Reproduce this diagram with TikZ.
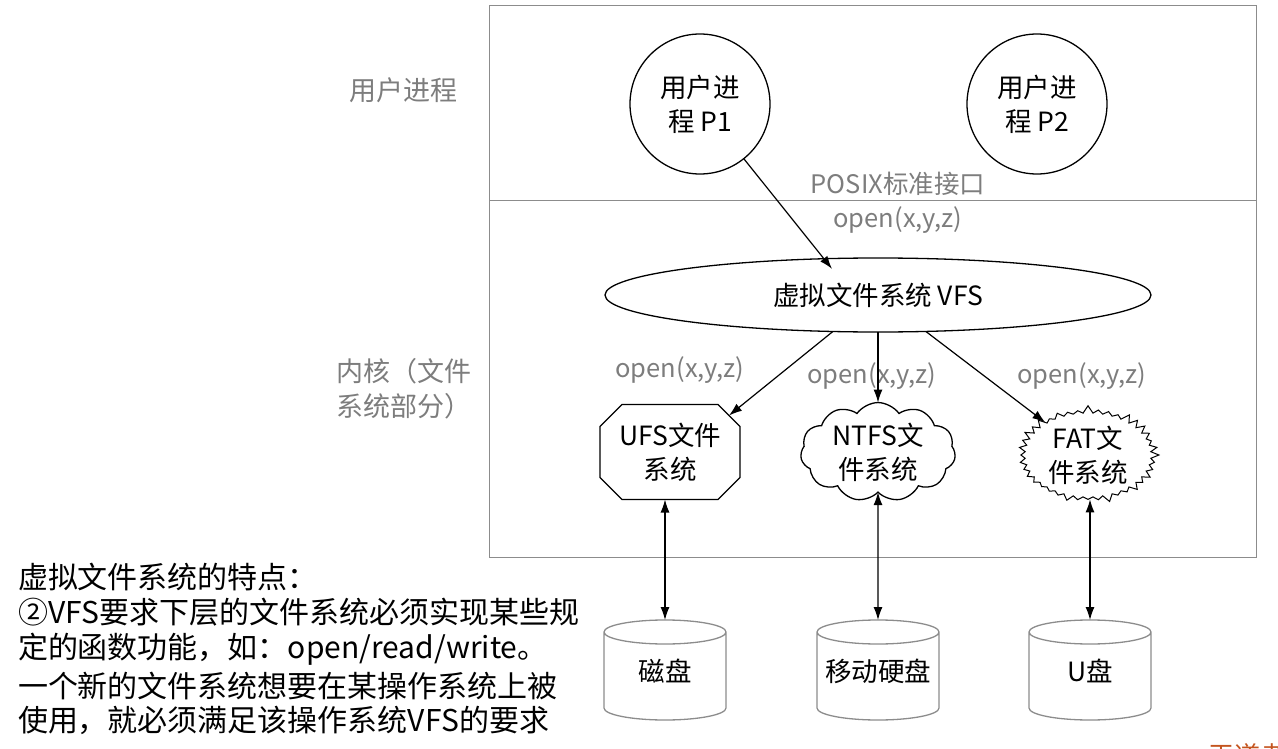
\documentclass[tikz,border=0pt]{standalone}
\usepackage{fontspec}
\setmainfont{Noto Sans CJK SC}
\usetikzlibrary{shapes.geometric,shapes.symbols,shapes.misc,arrows.meta}
\definecolor{lblgrey}{RGB}{125,125,125}
\definecolor{boxgrey}{RGB}{140,140,140}
\definecolor{wdorange}{RGB}{196,84,30}
\tikzset{
  every node/.style={inner sep=0pt, outer sep=0pt},
  shp/.style={draw=black, line width=1.3pt, align=center, font=\fontsize{26.5pt}{34pt}\selectfont},
  lbl/.style={text=lblgrey, font=\fontsize{25.5pt}{28pt}\selectfont},
  side/.style={text=lblgrey, align=left, font=\fontsize{27pt}{35pt}\selectfont},
  arr/.style={-{Latex[length=13pt,width=9pt]}, line width=1.2pt},
  darr/.style={{Latex[length=13pt,width=9pt]}-{Latex[length=13pt,width=9pt]}, line width=1.2pt},
  disk/.style={minimum width=122pt, minimum height=100pt, text depth=0pt, font=\fontsize{26.5pt}{30pt}\selectfont},
  diskline/.style={draw=boxgrey, line width=1.3pt},
  note/.style={anchor=west, font=\fontsize{30pt}{32pt}\selectfont}
}
\newcommand{\diskshape}[1]{%
  \draw[diskline] ([yshift=-12pt]#1.north west) -- ([yshift=12pt]#1.south west)
    arc[start angle=180, end angle=360, x radius=61pt, y radius=12pt]
    -- ([yshift=-12pt]#1.north east)
    arc[start angle=0, end angle=180, x radius=61pt, y radius=12pt]
    arc[start angle=180, end angle=360, x radius=61pt, y radius=12pt];}
\begin{document}
\begin{tikzpicture}[x=1pt,y=-1pt]
\useasboundingbox (0,0) rectangle (1278,749);
\clip (0,0) rectangle (1278,749);
% frame
\draw[boxgrey, line width=1pt] (489,6) rectangle (1256,557);
\draw[boxgrey, line width=1pt] (489,201) -- (1256,201);
% side labels
\node[side, anchor=west] (up) at (349,90) {用户进程};
\node[side, anchor=north west] (kern) at (336,358) {内核（文件\\系统部分）};
% processes
\node[shp, circle, minimum size=140pt] (p1) at (700,104) {用户进\\程 P1};
\node[shp, circle, minimum size=140pt] (p2) at (1037,104) {用户进\\程 P2};
% labels
\node[lbl] (posix) at (898,184) {POSIX标准接口};
\node[lbl] (o0) at (898,220) {open(x,y,z)};
% VFS
\node[shp, ellipse, minimum width=546pt, minimum height=74pt] (vfs) at (878,295) {虚拟文件系统 VFS};
% file systems
\node[shp, chamfered rectangle, chamfered rectangle xsep=11pt, chamfered rectangle ysep=11pt, minimum width=140pt, minimum height=95pt] (ufs) at (670,452) {UFS文件\\系统};
\node[shp, cloud, cloud puffs=11, cloud puff arc=110, aspect=1.6, minimum width=155pt, minimum height=95pt] (ntfs) at (878,452) {NTFS文\\件系统};
\node[shp, starburst, starburst points=40, starburst point height=8pt, random starburst=7, line width=1pt, minimum width=142pt, minimum height=100pt] (fat) at (1088,455) {FAT文\\件系统};
\node[lbl] (o1) at (680,370) {open(x,y,z)};
\node[lbl] (o2) at (872,376) {open(x,y,z)};
\node[lbl] (o3) at (1082,376) {open(x,y,z)};
% disks
\node[disk] (d1) at (665,670) {磁盘};
\node[disk] (d2) at (878,670) {移动硬盘};
\node[disk] (d3) at (1090,670) {U盘};
\diskshape{d1}
\diskshape{d2}
\diskshape{d3}
% arrows
\draw[arr] (p1) -- (vfs.north west -| 832,0);
\draw[arr] (vfs) -- (ufs.north east);
\draw[arr] (vfs.south) -- (ntfs.north);
\draw[arr] (vfs) -- (fat);
\draw[darr] (ufs.south -| d1) -- (d1.north);
\draw[darr] (ntfs.south) -- (d2.north);
\draw[darr] (fat.south -| d3) -- (d3.north);
% note
\node[note] (n1) at (18,577) {虚拟文件系统的特点：};
\node[note] (n2) at (18,612) {②VFS要求下层的文件系统必须实现某些规};
\node[note] (n3) at (18,649) {定的函数功能，如：open/read/write。};
\node[note] (n4) at (18,686) {一个新的文件系统想要在某操作系统上被};
\node[note] (n5) at (18,720) {使用，就必须满足该操作系统VFS的要求};
\node[anchor=west, text=wdorange, font=\fontsize{26pt}{30pt}\selectfont] (wd) at (1208,756) {王道考研};
\end{tikzpicture}
\end{document}
